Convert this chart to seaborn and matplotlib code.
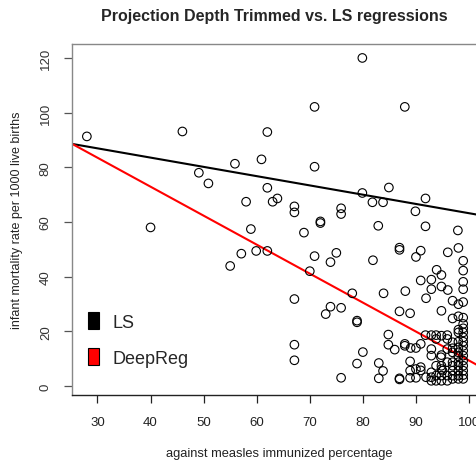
import numpy as np
import pandas as pd
import matplotlib
matplotlib.use("Agg")
import matplotlib.pyplot as plt
from matplotlib.patches import Patch
import seaborn as sns

# Measles immunization (%) and infant mortality (per 1000 live births)
immunized = [
    28.0, 46.0, 62.0, 55.9, 60.9, 49.1, 50.9, 62.0, 58.0, 63.0, 63.9, 67.1, 67.1, 40.0,
    58.9, 68.9, 57.1, 59.9, 62.0, 55.0,
    79.9, 70.9, 87.9, 70.9, 84.9, 79.9, 81.8, 83.8, 91.8, 89.9, 75.9, 75.9, 72.0, 72.0,
    82.9, 91.8, 97.9,
    70.9, 75.0, 73.9, 81.9, 70.0, 78.0, 83.9, 67.1, 73.9, 75.9, 73.0, 78.9, 78.9, 84.8,
    84.8, 67.1, 67.1, 80.0, 78.9, 83.0, 83.8, 83.0, 75.9,
    86.9, 86.9, 90.9, 90.0, 96.0, 98.0, 98.9, 98.9, 93.9, 94.8, 90.9, 92.9, 98.9, 94.8,
    92.9, 96.0, 98.9, 88.0, 91.9, 96.9, 98.0, 98.9,
    94.8, 96.9, 98.0, 98.9, 86.9, 88.9,
    98.9, 98.9, 98.9, 98.9, 98.9, 98.9, 98.9, 98.9, 98.9, 98.9, 98.9, 98.9, 98.9,
    98.0, 98.0, 98.0, 98.0, 98.0, 98.0, 98.0, 98.0, 98.0, 98.0, 98.0,
    96.9, 96.9, 96.9, 96.9, 96.9, 96.9, 96.9, 96.9,
    91.8, 92.9, 93.8, 94.8, 95.9, 93.8, 95.9,
    86.0, 87.9, 87.9, 89.0, 90.0, 90.9,
    92.9, 92.9, 94.8, 95.9, 95.9, 94.7,
    88.9, 88.9, 88.9, 90.0, 90.0, 90.9, 90.9, 91.9, 86.9, 86.9,
    92.9, 92.9, 92.9, 93.8, 93.8, 93.8, 94.8, 94.8, 94.8, 94.8, 95.9, 95.9, 95.0,
]
mortality = [
    91.3, 93.1, 92.9, 81.3, 82.9, 78.0, 74.1, 72.5, 67.4, 67.4, 68.6, 65.7, 63.5, 58.0,
    57.4, 56.1, 48.4, 49.4, 49.4, 43.9,
    120.0, 102.1, 102.1, 80.2, 72.6, 70.6, 67.2, 67.2, 68.6, 63.9, 65.0, 62.9, 60.2, 59.6,
    58.6, 58.4, 56.9,
    47.5, 48.7, 45.3, 46.0, 42.0, 33.9, 33.9, 31.8, 29.0, 28.6, 26.3, 23.9, 23.3, 18.8,
    15.1, 15.1, 9.4, 12.4, 8.2, 8.4, 5.5, 2.8, 3.0,
    50.6, 49.8, 49.5, 47.2, 48.9, 50.5, 45.8, 42.2, 42.5, 40.6, 38.6, 38.9, 38.1, 36.4,
    35.4, 35.1, 35.4, 34.7, 32.1, 31.2, 29.9, 30.7,
    27.5, 24.7, 25.5, 25.0, 27.3, 26.6,
    22.7, 21.1, 19.6, 17.8, 16.2, 14.7, 12.9, 11.1, 9.3, 7.4, 5.6, 4.0, 2.6,
    20.6, 19.6, 16.2, 14.1, 12.3, 10.9, 8.7, 7.4, 5.6, 3.8, 2.6,
    16.0, 13.8, 12.3, 8.7, 7.4, 5.6, 3.8, 2.6,
    18.6, 18.6, 18.6, 18.4, 18.6, 17.2, 17.2,
    13.3, 14.7, 15.4, 13.9, 13.9, 15.4,
    11.1, 13.5, 11.3, 13.5, 8.7, 10.5,
    9.0, 5.6, 3.0, 6.2, 3.0, 6.9, 5.7, 3.2, 2.8, 2.4,
    5.0, 3.2, 1.9, 7.4, 3.8, 1.9, 7.4, 6.2, 3.8, 1.9, 3.8, 1.9, 5.6,
]

# Fitted lines: intercept and slope of each regression
fit_names = ["LS", "DeepReg"]
fit_intercepts = [97.1, 115.3]
fit_slopes = [-0.339, -1.06]
fit_colors = ["black", "red"]

x_ticks = [30, 40, 50, 60, 70, 80, 90, 100]
y_ticks = [0, 20, 40, 60, 80, 100, 120]

df = pd.DataFrame({"immunized": immunized, "mortality": mortality})

sns.set_theme(style="white")
plt.rcParams["font.family"] = ["Liberation Sans", "DejaVu Sans"]

fig = plt.figure(figsize=(4.77, 4.64), dpi=100)
ax_w = 1 - 72 / 477 + 0.02
ax = fig.add_axes([72 / 477, 1 - 396 / 464, ax_w, (396 - 45) / 464])

sns.scatterplot(data=df, x="immunized", y="mortality", ax=ax,
                marker="o", s=38, facecolor="none", edgecolor="black",
                linewidth=0.8, zorder=3)

for name, b0, b1, col in zip(fit_names, fit_intercepts, fit_slopes, fit_colors):
    ax.axline((0, b0), slope=b1, color=col, linewidth=1.5, zorder=2)

ax.set_xlim(25.2, 103.3)
ax.set_ylim(-3.3, 125.1)
ax.set_xticks(x_ticks)
ax.set_yticks(y_ticks)
ax.set_xticklabels([str(v) for v in x_ticks], fontsize=9.5, color="#222222")
ax.set_yticklabels([str(v) for v in y_ticks], fontsize=9.5, color="#333333",
                   rotation=90, va="center", ha="right")

for side in ["top", "left"]:
    ax.spines[side].set_color("#888888")
    ax.spines[side].set_linewidth(1.0)
ax.spines["bottom"].set_color("#222222")
ax.spines["bottom"].set_linewidth(1.0)
ax.spines["right"].set_visible(False)

ax.tick_params(axis="x", which="major", bottom=True, length=6, width=0.9,
               color="#222222", pad=9)
ax.tick_params(axis="y", which="major", left=True, length=5.5, width=0.9,
               color="#555555", pad=9)

ax.set_xlabel("against measles immunized percentage", fontsize=9.3, labelpad=14,
              color="#222222")
ax.set_ylabel("infant mortality rate per 1000 live births", fontsize=9,
              labelpad=12, color="#222222")
ax.set_title("Projection Depth Trimmed vs. LS regressions", fontsize=11.5,
             fontweight="bold", pad=17, x=(274 - 72) / (477 * ax_w))

handles = [Patch(facecolor=c, edgecolor="black", linewidth=0.8) for c in fit_colors]
ax.legend(handles, fit_names, loc="lower left", bbox_to_anchor=(0.02, 0.06),
          frameon=False, fontsize=13, handlelength=0.65, handleheight=1.1,
          handletextpad=0.75, labelspacing=0.95, borderaxespad=0.0)

fig.savefig("out.png", dpi=100)
